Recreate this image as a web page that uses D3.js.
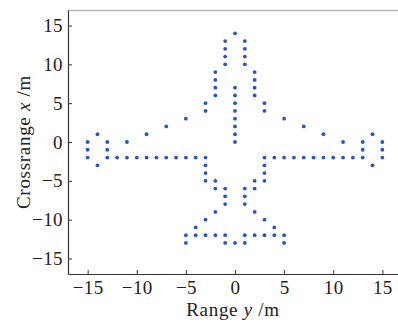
<!DOCTYPE html>
<html>
<head>
<meta charset="utf-8">
<script src="https://cdn.jsdelivr.net/npm/d3@7"></script>
<style>
  body { margin: 0; background: #fff; }
</style>
</head>
<body>
<div id="chart"></div>
<script>
// scatterer positions: range y (horizontal) and crossrange x (vertical), in metres
const rangeY = [
  0,
  -1, 1, -1, 1, -1, 1, -1, 1,
  -2, 2, -2, 2, -2, 2, -2, 2,
  -3, 3, -3, 3,
  -5, 5, -7, 7, -9, 9, -11, 11,
  0, 0, 0, 0, 0, 0, 0, 0,
  -15, -15, -15, -14, -14, -13, -13, -13,
  15, 15, 15, 14, 14, 13, 13, 13,
  -12, -11, -10, -9, -8, -7, -6, -5, -4, -3,
  3, 4, 5, 6, 7, 8, 9, 10, 11, 12,
  -3, 3, -3, 3, -3, 3, -2, 2,
  -2, 2, -1, 1, -1, 1, -1, 1,
  -2, 2, -3, 3, -4, 4,
  -5, -4, -3, -2, -1, 1, 2, 3, 4, 5,
  -5, -1, 0, 1, 5
];
const crossX = [
  14,
  13, 13, 12, 12, 11, 11, 10, 10,
  9, 9, 8, 8, 7, 7, 6, 6,
  5, 5, 4, 4,
  3, 3, 2, 2, 1, 1, 0, 0,
  7, 6, 5, 4, 3, 2, 1, 0,
  0, -1, -2, 1, -3, 0, -1, -2,
  0, -1, -2, 1, -3, 0, -1, -2,
  -2, -2, -2, -2, -2, -2, -2, -2, -2, -2,
  -2, -2, -2, -2, -2, -2, -2, -2, -2, -2,
  -3, -3, -4, -4, -5, -5, -5, -5,
  -6, -6, -6, -6, -7, -7, -8, -8,
  -9, -9, -10, -10, -11, -11,
  -12, -12, -12, -12, -12, -12, -12, -12, -12, -12,
  -13, -13, -13, -13, -13
];
const tickValues = [-15, -10, -5, 0, 5, 10, 15];

const W = 398, H = 322;
const FONT = "'Liberation Serif', 'DejaVu Serif', serif";
const margin = { top: 10, right: -4, bottom: 48, left: 68 };
const width = W - margin.left - margin.right;
const height = H - margin.top - margin.bottom;

const svg = d3.select("#chart").append("svg")
  .attr("width", W)
  .attr("height", H);
const g = svg.append("g")
  .attr("transform", `translate(${margin.left},${margin.top})`);

const x = d3.scaleLinear().domain([-17, 17]).range([0, width]);
const y = d3.scaleLinear().domain([-17, 17]).range([height, 0]);

// top frame line (light grey)
g.append("line")
  .attr("x1", 0).attr("x2", width)
  .attr("y1", 0.5).attr("y2", 0.5)
  .style("stroke", "#bdbdbd")
  .style("stroke-width", 1.5);

const fmt = d => d < 0 ? "\u2212" + Math.abs(d) : String(d);

const xAxis = g.append("g")
  .attr("transform", `translate(0,${height})`)
  .call(d3.axisBottom(x).tickValues(tickValues).tickSizeInner(-4).tickSizeOuter(0).tickPadding(7).tickFormat(fmt));
const yAxis = g.append("g")
  .call(d3.axisLeft(y).tickValues(tickValues).tickSizeInner(-4).tickSizeOuter(0).tickPadding(5).tickFormat(fmt));

[xAxis, yAxis].forEach(a => {
  a.attr("font-family", FONT).attr("font-size", 19);
  a.select(".domain").style("stroke", "#333").style("stroke-width", 1.2);
  a.selectAll(".tick line").style("stroke", "#333");
  a.selectAll(".tick text").style("fill", "#222").style("letter-spacing", "0.4px");
});

g.selectAll("circle.pt")
  .data(rangeY.map((v, i) => [v, crossX[i]]))
  .join("circle")
  .attr("class", "pt")
  .attr("cx", d => x(d[0]))
  .attr("cy", d => y(d[1]))
  .attr("r", 1.9)
  .style("fill", "#2a56b8");

// axis titles
const xt = svg.append("text")
  .attr("x", margin.left + x(0) - 2)
  .attr("y", 316)
  .attr("text-anchor", "middle")
  .attr("font-family", FONT)
  .attr("font-size", 19)
  .style("letter-spacing", "0.7px")
  .style("fill", "#222");
xt.append("tspan").text("Range ");
xt.append("tspan").style("font-style", "italic").text("y");
xt.append("tspan").text(" /m");

const yt = svg.append("text")
  .attr("transform", `translate(30,${margin.top + y(0)}) rotate(-90)`)
  .attr("text-anchor", "middle")
  .attr("font-family", FONT)
  .attr("font-size", 19)
  .style("letter-spacing", "0.7px")
  .style("fill", "#222");
yt.append("tspan").text("Crossrange ");
yt.append("tspan").style("font-style", "italic").text("x");
yt.append("tspan").text(" /m");
</script>
</body>
</html>
